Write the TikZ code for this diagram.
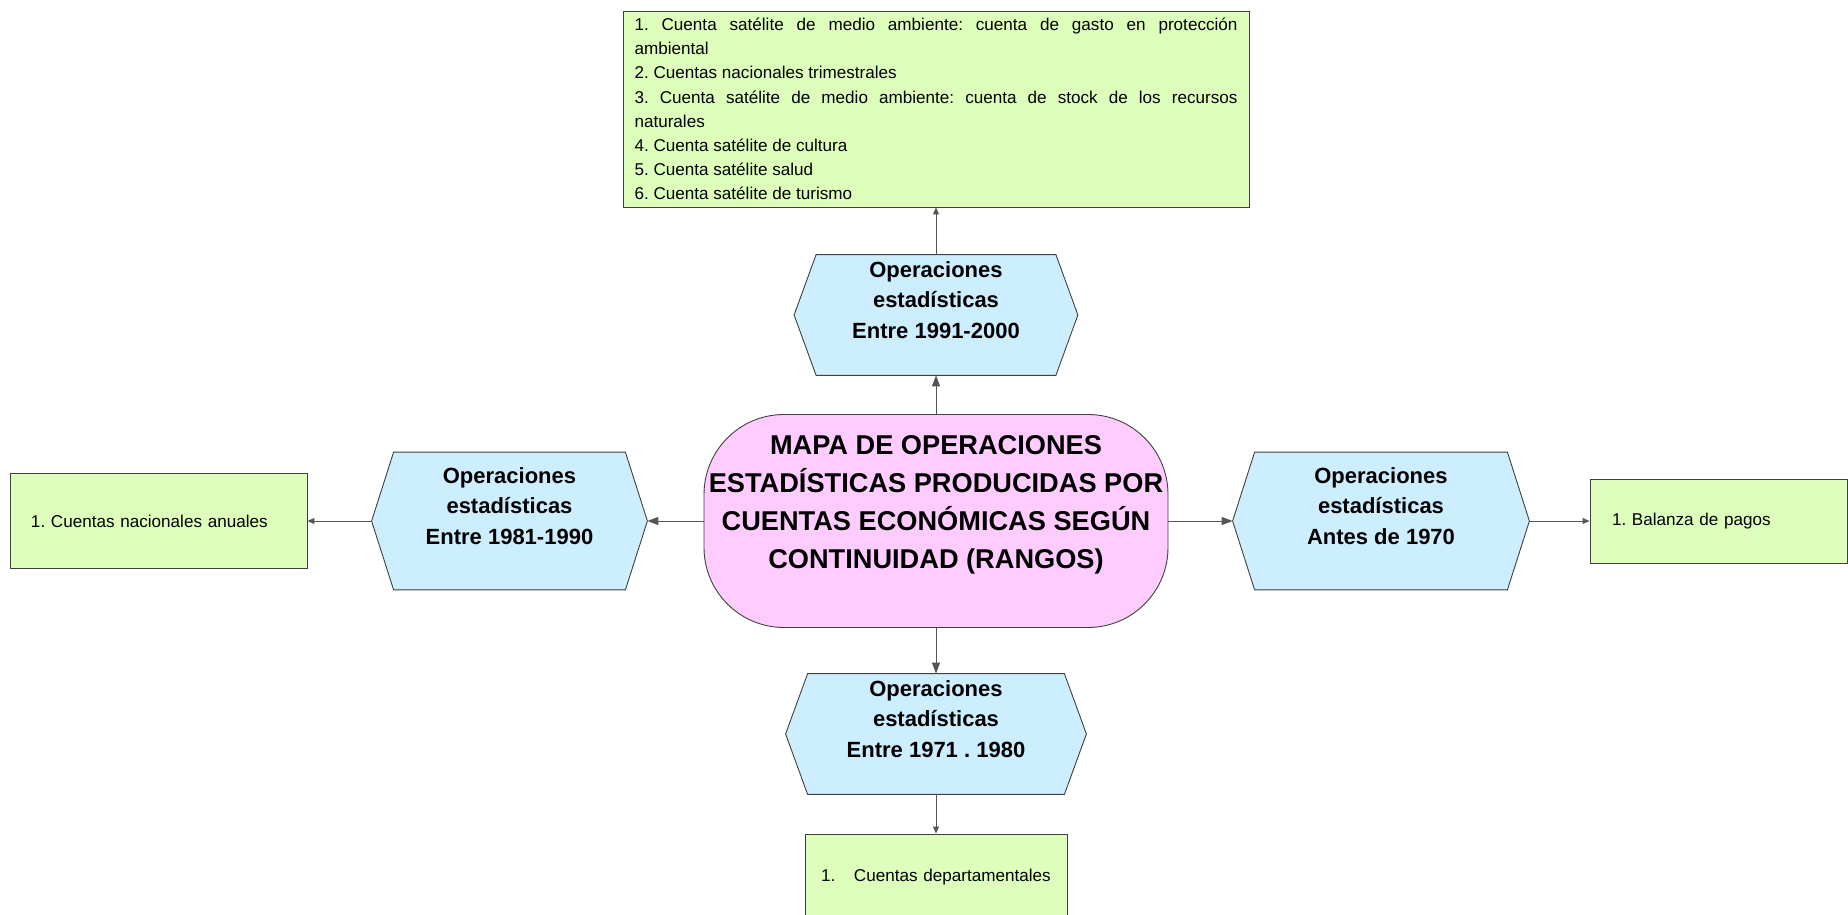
\documentclass[tikz,border=0pt]{standalone}
\usepackage{fontspec}
\setmainfont{Liberation Sans}
\usetikzlibrary{arrows.meta,backgrounds}
\frenchspacing

\definecolor{verde}{RGB}{221,255,187}
\definecolor{celeste}{RGB}{204,238,255}
\definecolor{rosa}{RGB}{255,204,255}
\definecolor{borde}{RGB}{64,64,64}
\definecolor{linea}{RGB}{85,85,85}

\tikzset{
  caja/.style={draw=borde, fill=verde, line width=0.45pt, align=left,
    font=\fontsize{8.55}{12.1}\selectfont},
  esagono/.style={inner sep=0pt, align=center,
    font=\fontsize{11}{15.25}\selectfont\bfseries},
  mapa/.style={draw=borde, fill=rosa, line width=0.45pt, rounded corners=40pt,
    inner sep=0pt, align=center, font=\fontsize{13.6}{18.9}\selectfont\bfseries},
  enlace/.style={draw=linea, line width=0.5pt, -{Triangle[length=5.5pt,width=4pt]}},
  subenlace/.style={enlace, -{Triangle[length=3.5pt,width=3pt]}}
}

\begin{document}
\begin{tikzpicture}[x=0.5pt,y=-0.5pt]

\useasboundingbox (0,0) rectangle (1848,915);

% Centro

\node[mapa, minimum width=232pt, minimum height=106.5pt] (centro) at (936,521)
  {MAPA DE OPERACIONES\\ESTADÍSTICAS PRODUCIDAS POR\\CUENTAS ECONÓMICAS SEGÚN\\CONTINUIDAD (RANGOS)\\\mbox{}};

% Rangos

\node[esagono, minimum width=141.5pt, minimum height=60pt] (h1991) at (936,315)
  {Operaciones\\estadísticas\\Entre 1991-2000\\\mbox{}};
\node[esagono, minimum width=137.5pt, minimum height=68.5pt] (h1981) at (509.5,521)
  {Operaciones\\estadísticas\\Entre 1981-1990\\\mbox{}};
\node[esagono, minimum width=148pt, minimum height=68.5pt] (h1970) at (1381,521)
  {Operaciones\\estadísticas\\Antes de 1970\\\mbox{}};
\node[esagono, minimum width=150pt, minimum height=60pt] (h1971) at (936,734)
  {Operaciones\\estadísticas\\Entre 1971 . 1980\\\mbox{}};

\begin{scope}[on background layer]
\foreach \h in {h1991,h1981,h1970,h1971}
  \draw[draw=borde, fill=celeste, line width=0.45pt] (\h.west) -- ([xshift=11pt]\h.north west)
    -- ([xshift=-11pt]\h.north east) -- (\h.east) -- ([xshift=-11pt]\h.south east)
    -- ([xshift=11pt]\h.south west) -- cycle;
\end{scope}

% Operaciones

\node[caja, align=justify, text width=301.5pt, inner xsep=5.75pt, minimum height=98pt] (c1991) at (936,109)
  {1. Cuenta satélite de medio ambiente: cuenta de gasto en protección\linebreak ambiental\\
   2. Cuentas nacionales trimestrales\\
   3. Cuenta satélite de medio ambiente: cuenta de stock de los recursos\linebreak naturales\\
   4. Cuenta satélite de cultura\\
   5. Cuenta satélite salud\\
   6. Cuenta satélite de turismo};
\node[caja, text width=127.5pt, inner xsep=10.5pt, minimum height=47.5pt] (c1981) at (158.5,521)
  {1. Cuentas nacionales anuales};
\node[caja, text width=106.5pt, inner xsep=11pt, minimum height=42pt] (c1970) at (1718.5,521)
  {1. Balanza de pagos};
\node[caja, text width=115pt, inner xsep=8pt, minimum height=43pt] (c1971) at (936,877)
  {\makebox[16.5pt][l]{1.}Cuentas~departamentales};

% Flechas

\draw[enlace] (centro) -- (h1991);
\draw[enlace] (centro) -- (h1981);
\draw[enlace] (centro) -- (h1970);
\draw[enlace] (centro) -- (h1971);

\draw[subenlace] (h1991) -- (c1991);
\draw[subenlace] (h1981) -- (c1981);
\draw[subenlace] (h1970) -- (c1970);
\draw[subenlace] (h1971) -- (c1971);

\end{tikzpicture}
\end{document}
